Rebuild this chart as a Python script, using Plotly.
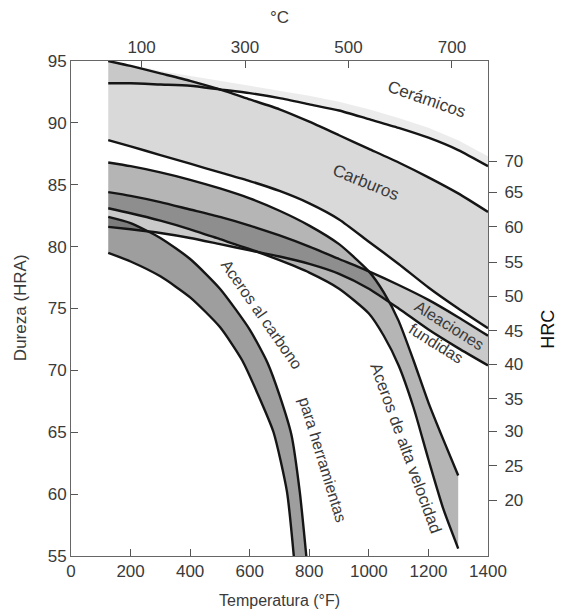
import plotly.graph_objects as go

# ---------------- data (°F vs HRA) ----------------
F_GRID = [125, 200, 300, 400, 500, 600, 700, 800, 900, 1000, 1100, 1200, 1300, 1400]
ceram_upper = [95.0, 94.7, 94.2, 93.8, 93.4, 93.0, 92.6, 92.2, 91.7, 91.1, 90.4, 89.6, 88.6, 87.3]
ceram_lower = [93.2, 93.2, 93.1, 93.0, 92.7, 92.4, 92.0, 91.5, 91.0, 90.3, 89.6, 88.8, 87.8, 86.5]
carb_upper = [95.0, 94.6, 94.0, 93.4, 92.7, 91.9, 91.1, 90.1, 89.0, 87.9, 86.8, 85.6, 84.3, 82.8]
carb_lower = [88.6, 88.1, 87.4, 86.7, 86.0, 85.3, 84.5, 83.5, 82.2, 80.4, 78.6, 76.7, 75.0, 73.4]
cast_upper = [84.4, 84.1, 83.6, 83.0, 82.4, 81.7, 80.9, 80.0, 79.0, 78.0, 76.9, 75.7, 74.3, 72.8]
cast_lower = [81.6, 81.4, 81.1, 80.7, 80.2, 79.7, 79.2, 78.6, 77.8, 76.6, 75.0, 73.3, 71.8, 70.4]

HSS_F = [125, 200, 300, 400, 500, 600, 700, 800, 900, 1000, 1050, 1100, 1150, 1200, 1250, 1300]
hss_upper = [86.8, 86.5, 86.0, 85.4, 84.7, 83.9, 82.9, 81.7, 80.2, 78.0, 76.3, 74.0, 70.8, 67.4, 64.4, 61.5]
hss_lower = [83.1, 82.7, 82.1, 81.4, 80.6, 79.8, 78.9, 77.9, 76.6, 74.6, 72.8, 70.4, 67.0, 62.8, 58.8, 55.6]

CT_UP_F = [125, 200, 300, 400, 500, 600, 660, 700, 740, 768, 790]
ct_upper = [82.4, 81.9, 80.7, 79.0, 76.6, 73.3, 70.6, 68.0, 64.8, 60.2, 55.0]
CT_LO_F = [125, 200, 300, 400, 500, 575, 625, 680, 725, 748]
ct_lower = [79.5, 78.8, 77.6, 75.9, 73.5, 70.8, 68.2, 65.0, 60.2, 55.0]

X_TICKS = [0, 200, 400, 600, 800, 1000, 1200, 1400]
Y_TICKS = [55, 60, 65, 70, 75, 80, 85, 90, 95]
C_TICKS = [100, 300, 500, 700]
HRC_LABELS = [20, 25, 30, 35, 40, 45, 50, 55, 60, 65, 70]
HRC_AS_HRA = [59.5, 62.3, 65.1, 67.7, 70.5, 73.2, 76.0, 78.75, 81.6, 84.4, 86.9]

# ---------------- figure ----------------
fig = go.Figure()

def band(xu, yu, xl, yl, alpha):
    fig.add_trace(go.Scatter(
        x=list(xu) + list(xl)[::-1], y=list(yu) + list(yl)[::-1],
        fill="toself", fillcolor=f"rgba(0,0,0,{alpha})",
        line=dict(width=0), mode="lines", hoverinfo="skip", showlegend=False))

def edge(x, y):
    fig.add_trace(go.Scatter(x=x, y=y, mode="lines",
                             line=dict(color="#151515", width=2.4, shape="spline", smoothing=0.6),
                             hoverinfo="skip", showlegend=False))

band(F_GRID, ceram_upper, F_GRID, ceram_lower, 0.075)
band(F_GRID, carb_upper, F_GRID, carb_lower, 0.15)
band(F_GRID, cast_upper, F_GRID, cast_lower, 0.21)
band(HSS_F, hss_upper, HSS_F, hss_lower, 0.29)
band(CT_UP_F, ct_upper, CT_LO_F, ct_lower, 0.38)

for xs, ys in [(F_GRID, ceram_lower), (F_GRID, carb_upper), (F_GRID, carb_lower),
               (F_GRID, cast_upper), (F_GRID, cast_lower), (HSS_F, hss_upper),
               (HSS_F, hss_lower), (CT_UP_F, ct_upper), (CT_LO_F, ct_lower)]:
    edge(xs, ys)

# dummy traces to activate secondary axes
fig.add_trace(go.Scatter(x=[None], y=[None], xaxis="x2", yaxis="y", showlegend=False))
fig.add_trace(go.Scatter(x=[None], y=[None], xaxis="x", yaxis="y2", showlegend=False))

TXT = "#3a3a3a"
FONT = "Liberation Sans, Arial, sans-serif"

def label(text, x, y, ang, size=17):
    fig.add_annotation(x=x, y=y, xref="x", yref="y", text=text, showarrow=False,
                       xanchor="center", yanchor="middle",
                       textangle=ang, font=dict(size=size, color=TXT, family=FONT))

label("Cerámicos", 1195, 91.9, 19)
label("Carburos", 990, 85.2, 22)
label("Aleaciones", 1270, 73.6, 32, 16)
label("fundidas", 1226, 72.2, 32, 16)
label("Aceros al carbono", 640, 74.5, 55, 16)
label("para herramientas", 845, 62.8, 73, 16)
label("Aceros de alta velocidad", 1125, 63.7, 70, 16.5)

axis_common = dict(showgrid=False, zeroline=False, showline=True, linecolor="#666",
                   linewidth=1, ticks="inside", ticklen=7, tickcolor="#555", automargin=False,
                   tickfont=dict(size=17, color=TXT, family=FONT))

fig.update_layout(
    width=556, height=605,
    margin=dict(l=63, r=76, t=53, b=57, autoexpand=False),
    paper_bgcolor="white", plot_bgcolor="white",
    font=dict(family=FONT, color=TXT),
    xaxis=dict(range=[0, 1400], tickvals=X_TICKS, **axis_common),
    xaxis2=dict(range=[-36.4, 769.6], overlaying="x", side="top", tickvals=C_TICKS,
                **axis_common),
    yaxis=dict(range=[55, 95], tickvals=Y_TICKS, **axis_common),
    yaxis2=dict(range=[55, 95], overlaying="y", side="right", tickvals=HRC_AS_HRA,
                ticktext=[str(v) for v in HRC_LABELS], ticklabelstandoff=4,
                **{**axis_common, "ticks": "outside", "ticklen": 8}),
)

def title(text, x, y, size, ang=0, color=TXT):
    fig.add_annotation(text=text, xref="paper", yref="paper", x=x, y=y, showarrow=False,
                       xanchor="center", yanchor="middle", textangle=ang,
                       font=dict(size=size, color=color, family=FONT))

title("Temperatura (°F)", 0.501, -0.089, 16)
title("°C", 0.501, 1.087, 17)
title("Dureza (HRA)", -0.122, 0.501, 17, -90)
title("HRC", 1.144, 0.457, 18, -90, "#111")

fig.write_html("out.html")
